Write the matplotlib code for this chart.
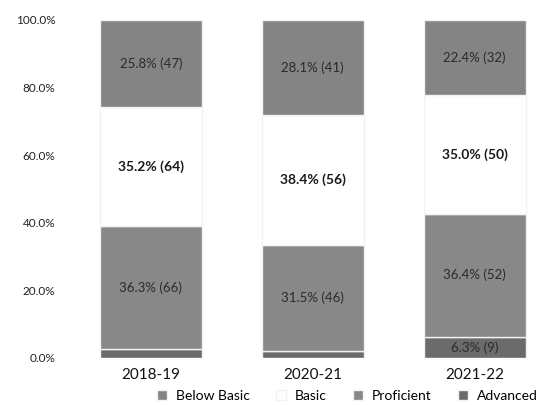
import numpy as np
import matplotlib.pyplot as plt

plt.rcParams['font.family'] = ['Lato', 'DejaVu Sans']

years = ["2018-19", "2020-21", "2021-22"]
levels = ["Advanced", "Proficient", "Basic", "Below Basic"]  # bottom to top
pct = {
    "Advanced": [2.7, 2.0, 6.3],
    "Proficient": [36.3, 31.5, 36.4],
    "Basic": [35.2, 38.4, 35.0],
    "Below Basic": [25.8, 28.1, 22.4],
}
counts = {
    "Advanced": [5, 3, 9],
    "Proficient": [66, 46, 52],
    "Basic": [64, 56, 50],
    "Below Basic": [47, 41, 32],
}
colors = {
    "Advanced": "#6b6b6b",
    "Proficient": "#888888",
    "Basic": "#ffffff",
    "Below Basic": "#848484",
}
show_label = {
    "Advanced": [False, False, True],
    "Proficient": [True, True, True],
    "Basic": [True, True, True],
    "Below Basic": [True, True, True],
}

fig = plt.figure(figsize=(5.54, 4.05), dpi=100)
ax = fig.add_axes([65 / 554, 47 / 405, 489 / 554, 338 / 405])

x = np.arange(len(years))
bottom = np.zeros(len(years))
for lvl in levels:
    vals = np.array(pct[lvl])
    ax.bar(x, vals, 0.63, bottom=bottom, color=colors[lvl],
           edgecolor="#f2f2f2", linewidth=1.0, label=lvl)
    for i in range(len(years)):
        if not show_label[lvl][i]:
            continue
        txt = f"{vals[i]:.1f}% ({counts[lvl][i]})"
        if lvl == "Basic":
            ax.text(x[i], bottom[i] + vals[i] / 2, txt, ha="center", va="center",
                    fontsize=10, fontweight="bold", color="#1a1a1a")
        else:
            ax.text(x[i], bottom[i] + vals[i] / 2, txt, ha="center", va="center",
                    fontsize=9.5, color="#2a2a2a")
    bottom += vals

ax.set_xlim(-0.53, 2.49)
ax.set_ylim(0, 100)
ax.set_yticks([0, 20, 40, 60, 80, 100])
ax.set_yticklabels([f"{v:.1f}%" for v in [0, 20, 40, 60, 80, 100]],
                   fontsize=8.5, color="#222222")
ax.set_xticks(x)
ax.set_xticklabels(years, fontsize=11, color="#111111")
ax.tick_params(axis="both", length=0)
ax.tick_params(axis="y", pad=7)
ax.tick_params(axis="x", pad=7)
for s in ax.spines.values():
    s.set_visible(False)

handles, labels = ax.get_legend_handles_labels()
order = [3, 2, 1, 0]
leg = fig.legend([handles[i] for i in order], [labels[i] for i in order],
                 loc="center", bbox_to_anchor=(0.627, 0.022), ncol=4,
                 frameon=False, fontsize=10, handlelength=0.7, handleheight=0.7,
                 columnspacing=1.9, handletextpad=0.65, borderpad=0)

fig.savefig("out.png", dpi=100, facecolor="white")
